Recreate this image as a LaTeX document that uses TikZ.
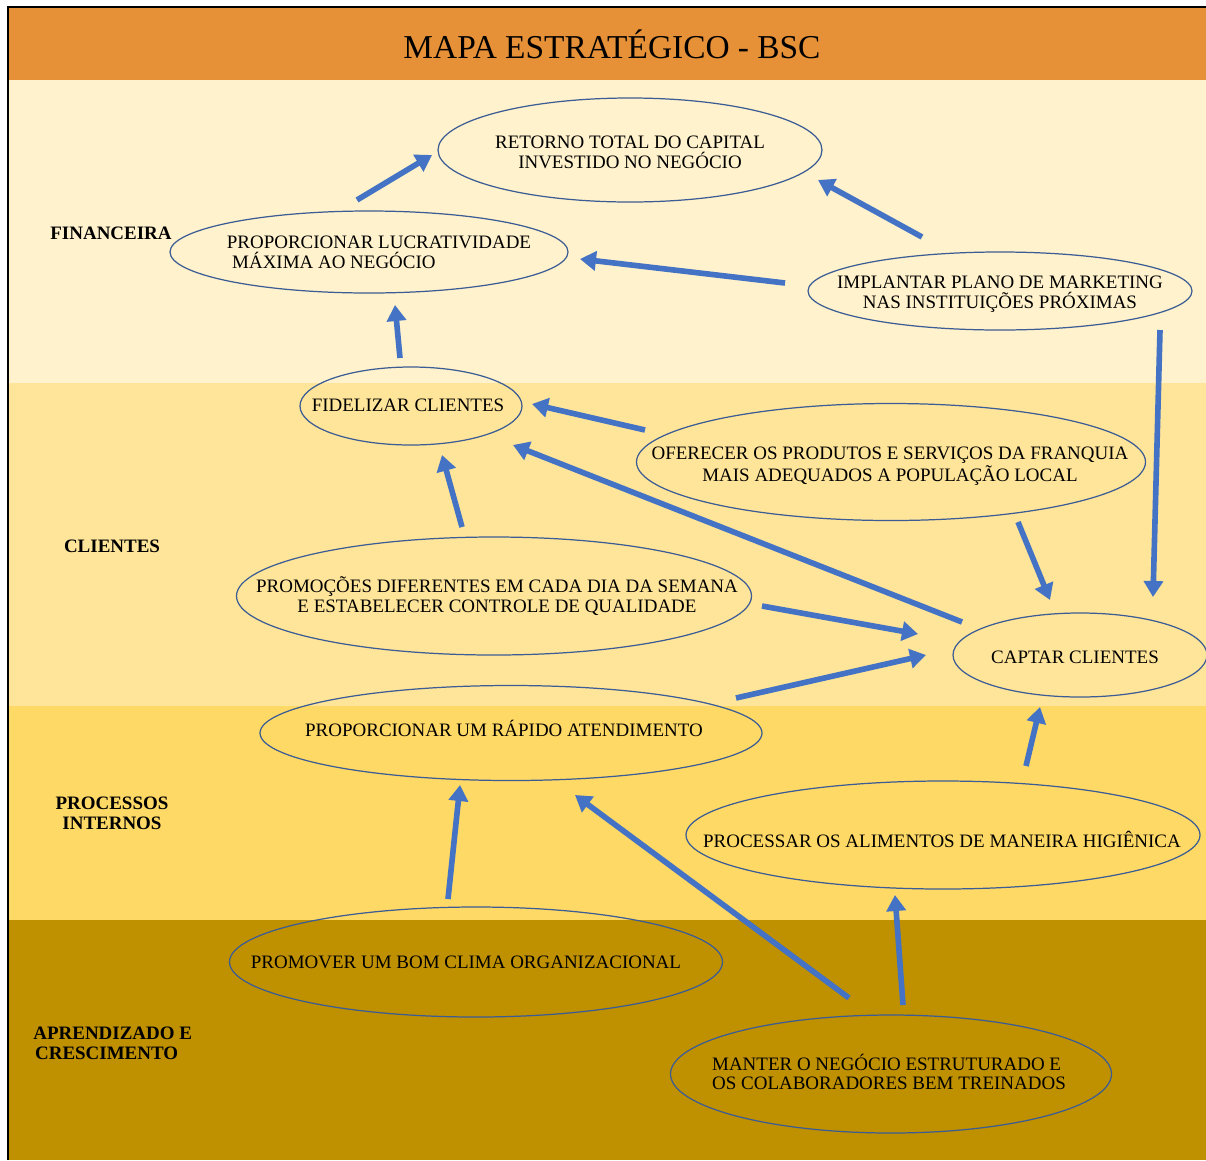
\documentclass[tikz,border=0pt]{standalone}
\usepackage{fontspec}
\setmainfont{Liberation Serif}
\usetikzlibrary{shapes.geometric, arrows.meta, calc}

\definecolor{titleor}{HTML}{E69138}
\definecolor{bandfin}{HTML}{FFF2CC}
\definecolor{bandcli}{HTML}{FFE599}
\definecolor{bandpro}{HTML}{FFD966}
\definecolor{bandapr}{HTML}{BF9000}
\definecolor{arrblue}{HTML}{4472C4}
\definecolor{ellline}{HTML}{3B5C94}

\begin{document}
\begin{tikzpicture}[x=0.02cm, y=-0.02cm,
  goal/.style 2 args={ellipse, draw=ellline, line width=0.7pt, inner sep=0pt,
                      minimum width=#1*0.02cm, minimum height=#2*0.02cm},
  txt/.style={align=center, inner sep=0pt, font=\fontsize{10.8}{11.3}\selectfont},
  lane/.style={align=center, inner sep=0pt, font=\bfseries\fontsize{10.8}{11.3}\selectfont},
  arrow/.style={-{Triangle[length=0.32cm, width=0.38cm]}, line width=3.2pt, draw=arrblue},
]
  \useasboundingbox (0,0) rectangle (1206,1160);

  % Perspective bands
  \fill[titleor] (8,7)   rectangle (1206,80);
  \fill[bandfin] (8,80)  rectangle (1206,383);
  \fill[bandcli] (8,383) rectangle (1206,706);
  \fill[bandpro] (8,706) rectangle (1206,920);
  \fill[bandapr] (8,920) rectangle (1206,1160);
  \draw[line width=1pt] (8,1160) -- (8,7) -- (1206,7);

  \node[font=\fontsize{19}{22}\selectfont] (title) at (612,44) {MAPA ESTRATÉGICO - BSC};

  % Lane labels
  \node[lane] (lfin) at (111,233)  {FINANCEIRA};
  \node[lane] (lcli) at (112,546)  {CLIENTES};
  \node[lane] (lpro) at (112,813)  {PROCESSOS\\INTERNOS};
  \node[lane, align=left, anchor=west] (lapr) at (33,1043) {APRENDIZADO E\\\hspace{1pt}CRESCIMENTO};

  % Objectives
  \node[goal={384}{104}] (retorno)   at (630,150)  {};
  \node[goal={398}{82}]  (lucro)     at (369,252)  {};
  \node[goal={384}{78}]  (implantar) at (1000,291) {};
  \node[goal={222}{78}]  (fidelizar) at (411,406)  {};
  \node[goal={509}{117}] (oferecer)  at (891,462)  {};
  \node[goal={515}{118}] (promocoes) at (494,596)  {};
  \node[goal={254}{84}]  (captar)    at (1080,655) {};
  \node[goal={502}{95}]  (rapido)    at (511,733)  {};
  \node[goal={514}{108}] (processar) at (943,835)  {};
  \node[goal={493}{110}] (promover)  at (476,962)  {};
  \node[goal={441}{118}] (manter)    at (891,1074) {};

  \node[txt] at ($(retorno)+(0,2)$)    {RETORNO TOTAL DO CAPITAL\\INVESTIDO NO NEGÓCIO};
  \node[txt, align=left] at ($(lucro)+(10,0)$) {PROPORCIONAR LUCRATIVIDADE\\\hspace{3pt}MÁXIMA AO NEGÓCIO};
  \node[txt] at ($(implantar)+(0,3)$)  {IMPLANTAR PLANO DE MARKETING\\NAS INSTITUIÇÕES PRÓXIMAS};
  \node[txt] at ($(fidelizar)+(-3,-1)$) {FIDELIZAR CLIENTES};
  \node[txt] at ($(oferecer)+(-1,4)$)  {OFERECER OS PRODUTOS E SERVIÇOS DA FRANQUIA\\MAIS ADEQUADOS A POPULAÇÃO LOCAL};
  \node[txt] at ($(promocoes)+(3,0)$)  {PROMOÇÕES DIFERENTES EM CADA DIA DA SEMANA\\E ESTABELECER CONTROLE DE QUALIDADE};
  \node[txt] at ($(captar)+(-5,2)$)    {CAPTAR CLIENTES};
  \node[txt] at ($(rapido)+(-7,-5)$)   {PROPORCIONAR UM RÁPIDO ATENDIMENTO};
  \node[txt] at ($(processar)+(-1,4)$) {PROCESSAR OS ALIMENTOS DE MANEIRA HIGIÊNICA};
  \node[txt] at ($(promover)+(-10,0)$) {PROMOVER UM BOM CLIMA ORGANIZACIONAL};
  \node[txt, align=left] at ($(manter)+(-2,-2)$) {MANTER O NEGÓCIO ESTRUTURADO E\\OS COLABORADORES BEM TREINADOS};

  % Cause-effect arrows
  \draw[arrow] ($(lucro)+(-12,-52)$)     -- ($(retorno)+(-198,5)$);
  \draw[arrow] ($(implantar)+(-78,-54)$) -- ($(retorno)+(188,30)$);
  \draw[arrow] ($(implantar)+(-215,-8)$) -- ($(lucro)+(211,7)$);
  \draw[arrow] ($(fidelizar)+(-11,-48)$) -- ($(lucro)+(26,53)$);
  \draw[arrow] ($(implantar)+(160,39)$)  -- ($(captar)+(73,-58)$);
  \draw[arrow] ($(oferecer)+(-246,-32)$) -- ($(fidelizar)+(121,-2)$);
  \draw[arrow] ($(captar)+(-118,-33)$)   -- ($(fidelizar)+(102,39)$);
  \draw[arrow] ($(promocoes)+(-32,-69)$) -- ($(fidelizar)+(31,49)$);
  \draw[arrow] ($(oferecer)+(127,60)$)   -- ($(captar)+(-30,-55)$);
  \draw[arrow] ($(promocoes)+(268,10)$)  -- ($(captar)+(-162,-21)$);
  \draw[arrow] ($(rapido)+(225,-35)$)    -- ($(captar)+(-154,0)$);
  \draw[arrow] ($(processar)+(83,-69)$)  -- ($(captar)+(-40,52)$);
  \draw[arrow] ($(promover)+(-28,-63)$)  -- ($(rapido)+(-51,52)$);
  \draw[arrow] ($(manter)+(-42,-76)$)    -- ($(rapido)+(64,62)$);
  \draw[arrow] ($(manter)+(12,-69)$)     -- ($(processar)+(-48,60)$);
\end{tikzpicture}
\end{document}
